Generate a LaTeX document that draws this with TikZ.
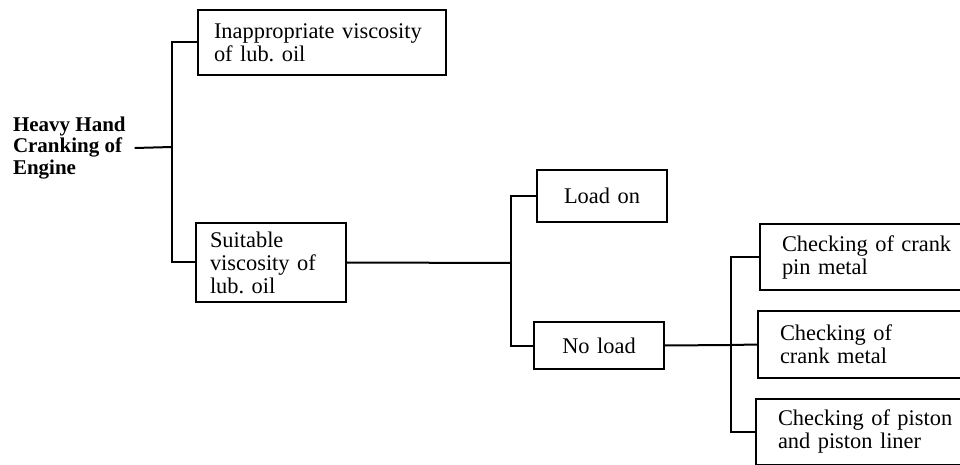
\documentclass[tikz,border=0pt]{standalone}
\usepackage{fontspec}
\setmainfont{Liberation Serif}
\usepackage{tikz}
\frenchspacing

\begin{document}
\begin{tikzpicture}[x=0.5pt,y=-0.5pt,line width=1pt,
  cause/.style={draw,anchor=west,align=left,inner ysep=0pt,
    font=\fontsize{11.2}{11.5}\selectfont},
  check/.style={cause,text width=93pt,inner xsep=11pt,minimum height=33pt}]
  \clip (0,0) rectangle (960,465);
  % top event
  \node[anchor=west,align=left,inner sep=4pt,
    font=\fontsize{10.5}{10.8}\selectfont\bfseries] (root) at (4,148)
    {Heavy Hand\\Cranking of\\Engine};
  \node[cause,text width=108pt,inner xsep=8pt,minimum height=32.5pt] (inapp) at (197,42.5)
    {Inappropriate viscosity\\of lub. oil};
  \node[cause,text width=61pt,inner xsep=7pt,minimum height=39.5pt] (suit) at (195,262.5)
    {Suitable\\viscosity of\\lub. oil};
  \node[cause,align=center,text width=49pt,inner xsep=8pt,minimum height=26pt] (loadon) at (536,196)
    {Load on};
  \node[cause,align=center,text width=49pt,inner xsep=8pt,minimum height=23.5pt] (noload) at (533,345.5)
    {No load};
  \foreach \nm/\x/\y/\txt in {crankpin/759/257/{Checking of crank\\pin metal},
      crank/757/344.5/{Checking of\\crank metal},
      piston/755/431.5/{Checking of piston\\and piston liner}}
    \node[check] (\nm) at (\x,\y) {\txt};
  % branch points
  \coordinate (jA) at (172,147);
  \coordinate (jB) at (511,263);
  \coordinate (jC) at (731,345);
  \draw (root.east) -- (jA);
  \draw (inapp.west) -| (jA) |- (suit.west);
  \draw (suit.east) -- (jB);
  \draw (loadon.west) -| (jB) |- (noload.west);
  \draw (noload.east) -- (jC);
  \draw (crankpin.west) -| (jC) |- (piston.west);
  \draw (crank.west) -- (jC);
\end{tikzpicture}
\end{document}
